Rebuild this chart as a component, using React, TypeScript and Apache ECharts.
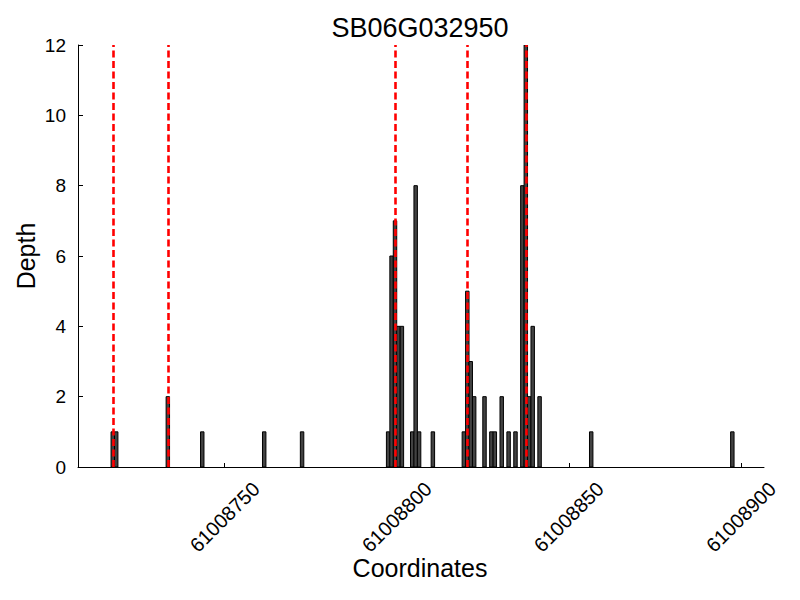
import React, { useEffect, useRef } from "react";
import * as echarts from "echarts";

const titleText = "SB06G032950";
const xName = "Coordinates";
const yName = "Depth";

const positions = [
  61008717, 61008718, 61008733, 61008743, 61008761, 61008772, 61008797, 61008798,
  61008799, 61008800, 61008801, 61008804, 61008805, 61008806, 61008810, 61008819,
  61008820, 61008821, 61008822, 61008825, 61008827, 61008828, 61008830, 61008832,
  61008834, 61008836, 61008837, 61008838, 61008839, 61008841, 61008856, 61008897,
];
const depths = [
  1, 1, 2, 1, 1, 1, 1, 6,
  7, 4, 4, 1, 8, 1, 1, 1,
  5, 3, 2, 2, 1, 1, 2, 1,
  1, 8, 12, 2, 4, 2, 1, 1,
];
const redLines = [61008717, 61008733, 61008799, 61008820, 61008837];
const xTicks = [61008750, 61008800, 61008850, 61008900];

const FONT = "Liberation Sans";

export default function App() {
  const ref = useRef<HTMLDivElement>(null);
  useEffect(() => {
    if (!ref.current) return;
    const chart = echarts.init(ref.current, null, { renderer: "svg" });
    const data = positions.map((p, i) => [p, depths[i]]);
    const option: any = {
      animation: false,
      backgroundColor: "#ffffff",
      graphic: [
        {
          type: "text",
          x: 420,
          y: 28,
          style: {
            text: titleText,
            fontFamily: FONT,
            fontSize: 27,
            fill: "#000",
            align: "center",
            verticalAlign: "middle",
          },
        },
        {
          type: "text",
          x: 420,
          y: 568,
          style: {
            text: xName,
            fontFamily: FONT,
            fontSize: 25,
            fill: "#000",
            align: "center",
            verticalAlign: "middle",
          },
        },
        {
          type: "text",
          x: 26,
          y: 256,
          rotation: Math.PI / 2,
          style: {
            text: yName,
            fontFamily: FONT,
            fontSize: 25,
            fill: "#000",
            align: "center",
            verticalAlign: "middle",
          },
        },
      ],
      grid: { left: 78, top: 45, width: 686, height: 422 },
      xAxis: {
        type: "value",
        min: 61008707.4,
        max: 61008906.7,
        splitLine: { show: false },
        axisLine: { show: true, lineStyle: { color: "#000", width: 1 } },
        axisTick: { show: true, inside: true, length: 4, customValues: xTicks, lineStyle: { color: "#000" } },
        axisLabel: {
          customValues: xTicks,
          rotate: 45,
          align: "center",
          verticalAlign: "middle",
          margin: 50,
          fontFamily: FONT,
          fontSize: 20,
          color: "#000",
          formatter: (v: number) => String(Math.round(v)),
        },
      },
      yAxis: {
        type: "value",
        min: 0,
        max: 12,
        interval: 2,
        splitLine: { show: false },
        axisLine: { show: true, lineStyle: { color: "#000", width: 1 } },
        axisTick: { show: true, inside: true, length: 5, lineStyle: { color: "#000" } },
        axisLabel: { margin: 12, fontFamily: FONT, fontSize: 19, color: "#000" },
      },
      series: [
        {
          type: "custom",
          data,
          encode: { x: 0, y: 1 },
          clip: true,
          renderItem: (params: any, api: any) => {
            const p = api.value(0);
            const d = api.value(1);
            const a = api.coord([p, 0]);
            const b = api.coord([p + 1, d]);
            return {
              type: "rect",
              shape: { x: a[0], y: b[1], width: b[0] - a[0], height: a[1] - b[1] },
              style: { fill: "#424242", stroke: "#000", lineWidth: 1 },
            };
          },
          markLine: {
            silent: true,
            symbol: ["none", "none"],
            label: { show: false },
            z: 10,
            lineStyle: { color: "#ff0000", type: [7, 3.5], width: 2.6, opacity: 1 },
            data: redLines.map((x) => ({ xAxis: x + 0.5 })),
          },
        },
      ],
    };
    chart.setOption(option);
    return () => chart.dispose();
  }, []);
  return (
    <div
      ref={ref}
      style={{ position: "fixed", left: 0, top: 0, width: 800, height: 600, background: "#fff" }}
    />
  );
}
